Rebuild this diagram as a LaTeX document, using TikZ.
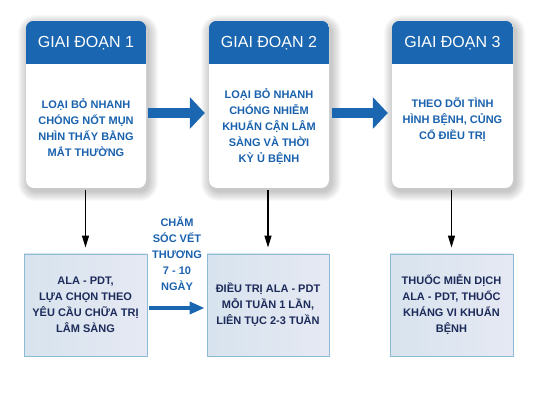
\documentclass[tikz,border=0pt]{standalone}
\usepackage{fontspec}
\setmainfont{Liberation Sans}
\usetikzlibrary{arrows.meta}
\definecolor{headblue}{HTML}{1A66B0}
\definecolor{textblue}{HTML}{1A62AE}
\definecolor{navytext}{HTML}{1C2B5A}
\definecolor{boxedge}{HTML}{8DBBD6}
\definecolor{boxleft}{HTML}{D7E3EE}
\definecolor{boxright}{HTML}{E6E9F3}
\begin{document}
\begin{tikzpicture}[x=1pt,y=-1pt,
  stage/.style={rectangle,rounded corners=8pt,fill=white,minimum height=167pt,inner sep=0pt},
  headtxt/.style={text=white,font=\fontsize{16}{19}\selectfont},
  bodytxt/.style={text=textblue,font=\bfseries\fontsize{11}{16}\selectfont,align=center},
  stepbox/.style={rectangle,draw=boxedge,line width=0.9pt,left color=boxleft,right color=boxright,
    minimum height=102pt,inner sep=0pt,text=navytext,font=\bfseries\fontsize{11}{16}\selectfont,align=center},
  bigarrow/.style={headblue,line width=10pt,-{Triangle[length=15pt,width=31pt]}},
  downarrow/.style={black,line width=1.3pt,-{Triangle[length=12pt,width=7pt]}}]
\useasboundingbox (0,0) rectangle (536,414);
% soft shadows under the stage cards
\foreach \cx/\w in {86/120,269/120,452.5/121}{
  \foreach \k [evaluate=\k as \r using 8+\k] in {1,...,10}{
    \fill[black,opacity=0.022,rounded corners=\r pt] (\cx-\w/2-\k+2,21-\k+4) rectangle (\cx+\w/2+\k+2,188+\k+3);}}
\node[stage,minimum width=120pt] (s1) at (86,104.5) {};
\node[stage,minimum width=120pt] (s2) at (269,104.5) {};
\node[stage,minimum width=121pt] (s3) at (452.5,104.5) {};
\foreach \s/\num in {s1/1,s2/2,s3/3}{
  \begin{scope}
    \clip[rounded corners=8pt] (\s.north west) rectangle (\s.south east);
    \fill[headblue] (\s.north west) rectangle ([yshift=-43pt]\s.north east);
  \end{scope}
  \node[headtxt] (h\num) at ([yshift=-22pt]\s.north) {GIAI ĐOẠN \num};}
\node[bodytxt] (t1) at (86,128) {LOẠI BỎ NHANH\\CHÓNG NỐT MỤN\\NHÌN THẤY BẰNG\\MẮT THƯỜNG};
\node[bodytxt] (t2) at (269,127) {LOẠI BỎ NHANH\\CHÓNG NHIỄM\\KHUẨN CẬN LÂM\\SÀNG VÀ THỜI\\KỲ Ủ BỆNH};
\node[bodytxt] (t3) at (452.5,120) {THEO DÕI TÌNH\\HÌNH BỆNH, CỦNG\\CỐ ĐIỀU TRỊ};
% treatment boxes
\node[stepbox,minimum width=123pt] (b1) at (85.5,305) {ALA - PDT,\\LỰA CHỌN THEO\\YÊU CẦU CHỮA TRỊ\\LÂM SÀNG};
\node[stepbox,minimum width=122pt] (b2) at (268,305) {ĐIỀU TRỊ ALA - PDT\\MỖI TUẦN 1 LẦN,\\LIÊN TỤC 2-3 TUẦN};
\node[stepbox,minimum width=123pt] (b3) at (451.5,305) {THUỐC MIỄN DỊCH\\ALA - PDT, THUỐC\\KHÁNG VI KHUẨN\\BỆNH};
\draw[bigarrow,shorten <=2pt,shorten >=4pt] ([yshift=-8.5pt]s1.east) -- ([yshift=-8.5pt]s2.west);
\draw[bigarrow,shorten <=3pt,shorten >=4pt] ([yshift=-8.5pt]s2.east) -- ([yshift=-8.5pt]s3.west);
\foreach \s/\b in {s1/b1,s2/b2,s3/b3}{
  \draw[downarrow,shorten <=2pt,shorten >=6pt] (\b.north |- \s.south) -- (\b.north);}
\node[bodytxt] (care) at (177,254) {CHĂM\\SÓC VẾT\\THƯƠNG\\7 - 10\\NGÀY};
\draw[headblue,line width=3.5pt,-{Triangle[length=15pt,width=12pt]},shorten <=2pt,shorten >=2pt] ([yshift=-3pt]b1.east) -- ([yshift=-3pt]b2.west);
\end{tikzpicture}
\end{document}
